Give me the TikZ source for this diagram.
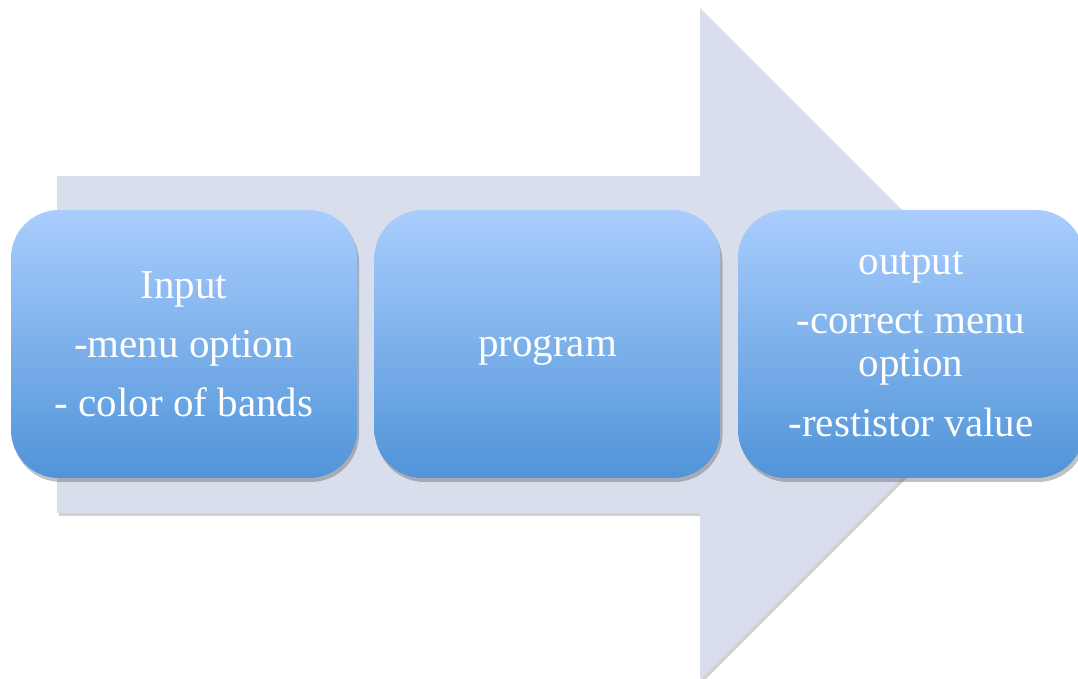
\documentclass[tikz,border=0pt]{standalone}
\usepackage{fontspec}
\setmainfont{Liberation Serif}
\usetikzlibrary{shadows}
\definecolor{arrowfill}{RGB}{217,222,236}
\definecolor{boxtop}{RGB}{170,205,253}
\definecolor{boxbot}{RGB}{80,148,216}
\tikzset{
  stepbox/.style={rounded corners=24pt, minimum width=173pt, minimum height=134pt,
    inner sep=0pt, top color=boxtop, bottom color=boxbot, draw=none,
    text=white, align=center, font=\fontsize{20.5}{21.6}\selectfont,
    drop shadow={shadow xshift=1pt, shadow yshift=-2pt, opacity=0.35, fill=black!70}},
  bigarrow/.style={fill=arrowfill, draw=none,
    drop shadow={shadow xshift=1pt, shadow yshift=-1.5pt, opacity=0.3, fill=black!60}}
}
\begin{document}
\begin{tikzpicture}[x=0.5pt,y=0.5pt]
\useasboundingbox (0,0) rectangle (1078,679);
\path[bigarrow] (57,503) -- (700,503) -- (700,671) -- (1036,335) -- (700,-1) -- (700,166) -- (57,166) -- cycle;
\node[stepbox] (in) at (184,335) {Input\\[8pt]-menu option\\[8pt]- color of bands};
\node[stepbox] (prog) at (547.5,335) {\raisebox{-6.5pt}[0pt][0pt]{program}};
\node[stepbox] (out) at (911,335) {output\\[8pt]-correct menu\\option\\[8pt]-restistor value};
\end{tikzpicture}
\end{document}
